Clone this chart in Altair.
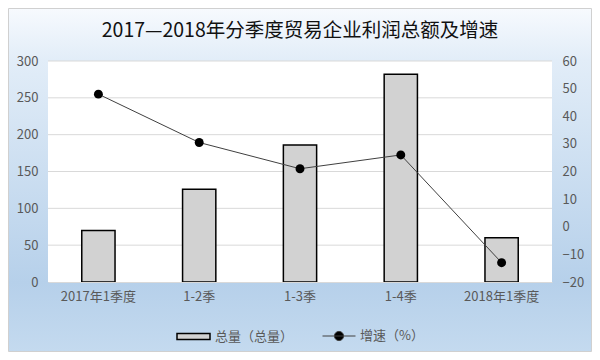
import altair as alt
import pandas as pd

categories = ["2017年1季度", "1-2季", "1-3季", "1-4季", "2018年1季度"]
totals = [70, 126, 186, 282, 60]
growth = [48, 30.5, 21, 26, -13]
left_ticks = [0, 50, 100, 150, 200, 250, 300]
right_ticks = [-20, -10, 0, 10, 20, 30, 40, 50, 60]
series_bar = "总量（总量）"
series_line = "增速（%）"
title_text = "2017—2018年分季度贸易企业利润总额及增速"

df = pd.DataFrame({
    "cat": categories,
    "total": totals,
    "growth": growth,
    "sb": [series_bar] * len(categories),
    "sl": [series_line] * len(categories),
})
grid_df = pd.DataFrame({"v": left_ticks[1:]})
one = pd.DataFrame({"a": [0]})

W, H = 504, 221
FONT = "Noto Sans CJK SC"
GRAY = "#595959"
GRID = "#d9d9d9"

x_enc = alt.X(
    "cat:N", sort=categories,
    scale=alt.Scale(type="band", paddingInner=0.67, paddingOuter=0.335),
    axis=alt.Axis(title=None, labelAngle=0, ticks=False, domainColor=GRID, zindex=1,
                  labelPadding=8, labelFontSize=13, labelColor=GRAY, labelFont=FONT),
)

left_axis = alt.Axis(title=None, orient="left", values=left_ticks, ticks=False, domain=False, zindex=1,
                     grid=False, labelPadding=10, labelFontSize=13, labelColor=GRAY, labelFont=FONT)
right_axis = alt.Axis(title=None, orient="right", values=right_ticks, ticks=False, domain=False, zindex=1,
                      grid=False, labelPadding=10, labelFontSize=13, labelColor=GRAY, labelFont=FONT)

bg = alt.Chart(one).mark_rect(
    fill=alt.Gradient(
        gradient="linear", x1=0, y1=0, x2=0, y2=1,
        stops=[
            alt.GradientStop(offset=0, color="#f7fafe"),
            alt.GradientStop(offset=0.15, color="#e2edf8"),
            alt.GradientStop(offset=0.8, color="#b6d0ea"),
            alt.GradientStop(offset=1, color="#c4daef"),
        ],
    ),
    stroke="#d0d0d0", strokeWidth=1,
).encode(x=alt.value(-39.5), x2=alt.value(W + 39.5), y=alt.value(-52.5), y2=alt.value(H + 69.5))

plot_bg = alt.Chart(one).mark_rect(fill="white").encode(
    x=alt.value(0), x2=alt.value(W), y=alt.value(0), y2=alt.value(H)
)

grid = alt.Chart(grid_df).mark_rule(color=GRID, strokeWidth=1).encode(
    y=alt.Y("v:Q", scale=alt.Scale(domain=[0, 300]), axis=left_axis)
)

bars = alt.Chart(df).mark_bar(stroke="black", strokeWidth=1.5).encode(
    x=x_enc,
    y=alt.Y("total:Q", scale=alt.Scale(domain=[0, 300]), axis=left_axis),
    fill=alt.Fill(
        "sb:N", scale=alt.Scale(domain=[series_bar], range=["#d2d2d2"]),
        legend=alt.Legend(
            title=None, orient="none", legendX=128, legendY=258, zindex=1,
            symbolType="M-1,-0.18H1V0.18H-1Z", symbolSize=1089,
            symbolStrokeColor="black", symbolStrokeWidth=1.5,
        ),
    ),
)

line = alt.Chart(df).mark_line(strokeWidth=1).encode(
    x=x_enc,
    y=alt.Y("growth:Q", scale=alt.Scale(domain=[-20, 60]), axis=right_axis),
    stroke=alt.Stroke(
        "sl:N", scale=alt.Scale(domain=[series_line], range=["#404040"]),
        legend=alt.Legend(
            title=None, orient="none", legendX=274, legendY=258, zindex=1,
            symbolType="M-1,0H1M0.28,0A0.28,0.28,0,1,1,-0.28,0A0.28,0.28,0,1,1,0.28,0Z",
            symbolSize=1089, symbolFillColor="black", symbolStrokeWidth=1,
        ),
    ),
)

points = alt.Chart(df).mark_circle(size=80, color="black", opacity=1).encode(
    x=x_enc,
    y=alt.Y("growth:Q", scale=alt.Scale(domain=[-20, 60]), axis=right_axis),
)

chart = alt.layer(
    bg, plot_bg, alt.layer(grid, bars), alt.layer(line, points)
).resolve_scale(y="independent").properties(
    width=W, height=H,
    autosize=alt.AutoSizeParams(type="none"),
    padding={"left": 40, "top": 53, "right": 40, "bottom": 70},
    title=alt.TitleParams(title_text, font=FONT, fontSize=19.5, fontWeight="normal", zindex=1,
                          color="#111111", anchor="middle", frame="group", offset=-33),
).configure_view(stroke=None).configure_legend(
    labelFont=FONT, labelFontSize=13, labelColor=GRAY, direction="horizontal", padding=0
)

chart.save("out.html", embed_options={"renderer": "svg", "actions": False})
